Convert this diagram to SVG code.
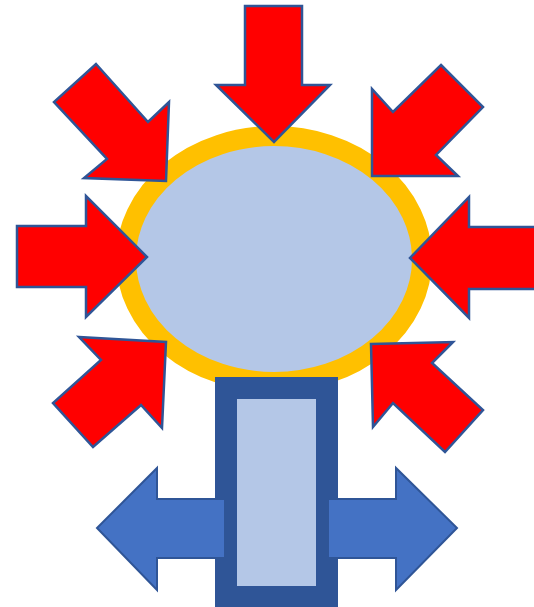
<svg xmlns="http://www.w3.org/2000/svg" width="534" height="607" viewBox="0 0 534 607">
  <style>
    .red { fill: #FF0000; stroke: #2F5597; stroke-width: 2.5; stroke-linejoin: miter; }
    .blue { fill: #4472C4; stroke: #2F5597; stroke-width: 2; stroke-linejoin: miter; }
  </style>
  <rect width="534" height="607" fill="#FFFFFF"/>
  <g id="ball">
    <ellipse cx="274" cy="259" rx="148" ry="123" fill="#B4C7E7" stroke="#FFC000" stroke-width="20"/>
  </g>
  <g id="arrows-in">
    <polygon id="arrow-top" class="red" points="245,6 302,6 302,85 330,85 274,142 216,85 245,85"/>
    <polygon id="arrow-top-left" class="red" points="96,64 148,122 169,102 166,181 84,178 107,159 54,102"/>
    <polygon id="arrow-top-right" class="red" points="441,65 483,107 436,155 458,176 372,176 372,89 393,112"/>
    <polygon id="arrow-left" class="red" points="17,226 86,226 86,196 147,257 86,317 86,287 17,287"/>
    <polygon id="arrow-right" class="red" points="540,227 469,227 469,197 410,258 469,318 469,289 540,289"/>
    <polygon id="arrow-bottom-left" class="red" points="79,337 166,342 162,428 141,405 93,447 53,403 101,360"/>
    <polygon id="arrow-bottom-right" class="red" points="371,344 453,342 432,363 483,410 445,452 393,403 373,427"/>
  </g>
  <g id="stem">
    <rect x="226" y="388" width="101" height="209" fill="#B4C7E7" stroke="#2F5597" stroke-width="22"/>
  </g>
  <g id="arrows-out">
    <polygon id="arrow-out-left" class="blue" points="225,499 157,499 157,468 97,528 157,590 157,558 225,558"/>
    <polygon id="arrow-out-right" class="blue" points="328,499 396,499 396,468 457,528 396,590 396,558 328,558"/>
  </g>
</svg>
